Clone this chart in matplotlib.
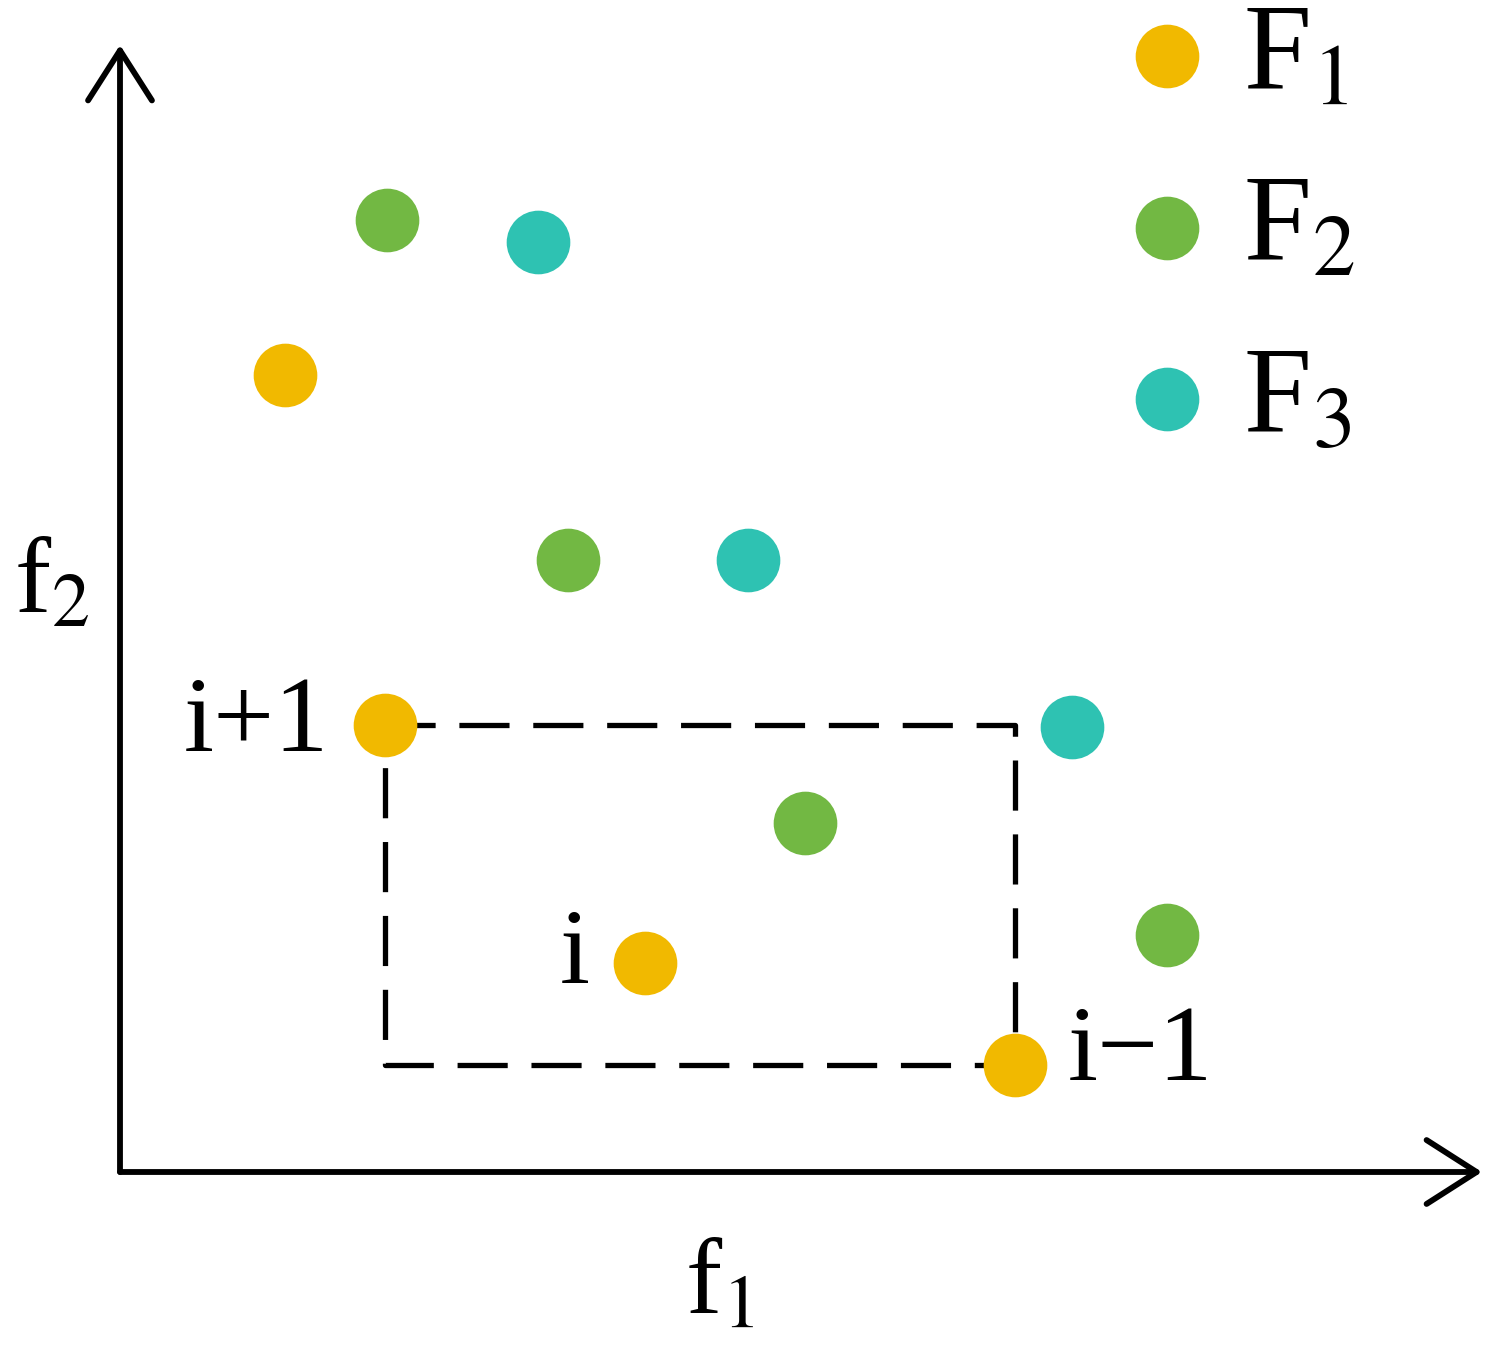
import numpy as np
import matplotlib.pyplot as plt

plt.rcParams['mathtext.fontset'] = 'stix'
plt.rcParams['font.family'] = ['Liberation Serif', 'DejaVu Serif']

# objective values of the three fronts (f1, f2)
f1_F1 = [1.65, 2.65, 5.25, 8.95]
f2_F1 = [7.97, 4.47, 2.09, 1.07]
f1_F2 = [2.67, 4.48, 6.85, 10.47]
f2_F2 = [9.52, 6.12, 3.49, 2.37]
f1_F3 = [4.18, 6.28, 9.52]
f2_F3 = [9.30, 6.12, 4.45]
front_labels = [r'F$_1$', r'F$_2$', r'F$_3$']
colors = ['#F1B900', '#72B843', '#2EC2B2']

fig = plt.figure(figsize=(15.08, 13.57), dpi=100)
ax = fig.add_axes([0, 0, 1, 1])
ax.set_xlim(-1.20, 13.88)
ax.set_ylim(-1.85, 11.72)
ax.axis('off')

# axes arrows
arrow = dict(arrowstyle='->,head_length=3.6,head_width=2.3', lw=4.2, color='black',
             shrinkA=0, shrinkB=0, mutation_scale=10)
ax.annotate('', xy=(13.62, 0), xytext=(0, 0), arrowprops=arrow)
ax.annotate('', xy=(0, 11.27), xytext=(0, 0), arrowprops=arrow)

# dashed box spanned by neighbours i+1 and i-1
x0, y0 = f1_F1[1], f2_F1[1]
x1, y1 = f1_F1[3], f2_F1[3]
ax.plot([x0, x1, x1, x0, x0], [y0, y0, y1, y1, y0], color='black', lw=3.8,
        dashes=(9.5, 4.5), zorder=1)

ms = 2100
ax.scatter(f1_F1, f2_F1, s=ms, color=colors[0], label=front_labels[0], zorder=3, lw=0)
ax.scatter(f1_F2, f2_F2, s=ms, color=colors[1], label=front_labels[1], zorder=3, lw=0)
ax.scatter(f1_F3, f2_F3, s=ms, color=colors[2], label=front_labels[2], zorder=3, lw=0)

fs = 78
ax.annotate('i+1', (f1_F1[1], f2_F1[1]), xytext=(-40, 0), textcoords='offset points',
            ha='right', va='center', fontsize=fs)
ax.annotate('i', (f1_F1[2], f2_F1[2]), xytext=(-40, 4), textcoords='offset points',
            ha='right', va='center', fontsize=fs)
ax.annotate('i\u22121', (f1_F1[3], f2_F1[3]), xytext=(38, 8), textcoords='offset points',
            ha='left', va='center', fontsize=fs)

ax.text(6.0, -1.15, r'f$_1$', fontsize=fs, ha='center', va='center')
ax.text(-0.68, 5.85, r'f$_2$', fontsize=fs, ha='center', va='center')

ax.legend(loc='upper left', bbox_to_anchor=(0.701, 1.034), frameon=False, fontsize=88,
          handletextpad=0.12, labelspacing=0.49, borderaxespad=0, handlelength=1.0)

fig.savefig('out.png', dpi=100)
